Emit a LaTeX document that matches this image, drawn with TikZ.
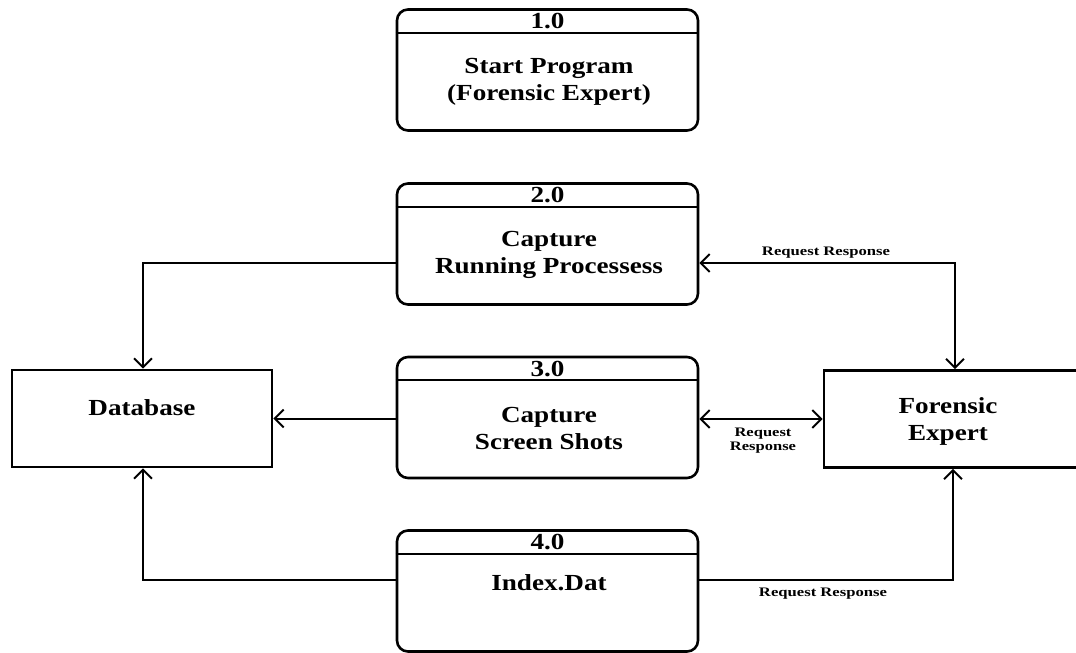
\documentclass[tikz,border=0pt]{standalone}
\usepackage{fontspec}
\setmainfont{Liberation Serif}
\usetikzlibrary{arrows.meta,calc}

% wide bold serif lettering used throughout the chart
\newcommand{\wtxt}[2][1.18]{\scalebox{#1}[1]{#2}}

\tikzset{
  procbox/.style={draw, line width=2.6pt, rounded corners=11pt,
                  minimum width=301pt, minimum height=121pt, inner sep=0pt},
  entbox/.style={draw, line width=2.6pt, inner sep=0pt},
  headline/.style={line width=2pt},
  flow/.style={line width=2pt, -{Straight Barb[length=9pt,width=18pt,line width=2pt]}},
  biflow/.style={line width=2pt, {Straight Barb[length=9pt,width=18pt,line width=2pt]}-{Straight Barb[length=9pt,width=18pt,line width=2pt]}},
  numtxt/.style={font=\bfseries\fontsize{23}{24}\selectfont, inner sep=0pt},
  bodytxt/.style={font=\bfseries\fontsize{23}{27}\selectfont, align=center, inner sep=0pt},
  lbltxt/.style={font=\bfseries\fontsize{13}{14}\selectfont, align=center, inner sep=0pt},
}

\begin{document}
\begin{tikzpicture}[x=1pt,y=-1pt]
\clip (0,0) rectangle (1076,653);
\useasboundingbox (0,0) rectangle (1076,653);

% processes
\node[procbox] (p1) at (547.5,70) {};
\node[procbox] (p2) at (547.5,244) {};
\node[procbox] (p3) at (547.5,417.5) {};
\node[procbox] (p4) at (547.5,591) {};

\foreach \p/\n in {p1/1.0,p2/2.0,p3/3.0,p4/4.0}{
  \draw[headline] ($(\p.north west)+(0,24.5)$) coordinate (\p hl) -- ($(\p.north east)+(0,24.5)$) coordinate (\p hr);
  \node[numtxt] (\p num) at ($(\p.north)+(0,13)$) {\wtxt{\n}};
}

\node[bodytxt] (p1t) at (549,81.5) {\wtxt{Start Program}\\\wtxt{(Forensic Expert)}};
\node[bodytxt] (p2t) at (549,254.5) {\wtxt{Capture}\\\wtxt{Running Processess}};
\node[bodytxt] (p3t) at (549,428.5) {\wtxt{Capture}\\\wtxt{Screen Shots}};
\node[bodytxt] (p4t) at (549,582.5) {\wtxt{Index.Dat}};

% external entities
\node[entbox, minimum width=260pt, minimum height=97pt] (db) at (142,418.5) {};
\node[bodytxt] (dbt) at (142,408) {\wtxt{Database}};
\node[entbox, minimum width=270pt, minimum height=97pt] (fe) at (959,419) {};
\node[bodytxt] (fet) at (948,421) {\wtxt{Forensic}\\\wtxt{Expert}};

% turning points of the flows
\coordinate (c2l) at (143,263);
\coordinate (c2r) at (955,263);
\coordinate (c4l) at (143,580);
\coordinate (c4r) at (953,580);

% data flows
\draw[flow] (p2.west |- c2l) -- (c2l) -- (c2l |- db.north);
\draw[biflow] (p2.east |- c2r) -- (c2r) -- (c2r |- fe.north);
\draw[flow] (p3.west |- 0,418.5) -- (db.east |- 0,418.5);
\draw[biflow] (p3.east |- 0,419) -- (fe.west |- 0,419);
\draw[flow] (p4.west |- c4l) -- (c4l) -- (c4l |- db.south);
\draw[flow] (p4.east |- c4r) -- (c4r) -- (c4r |- fe.south);

% flow labels
\node[lbltxt] (l2) at (826,252.5) {\wtxt[1.28]{Request Response}};
\node[lbltxt] (l3) at (763,441) {\wtxt[1.27]{Request}\\\wtxt[1.27]{Response}};
\node[lbltxt] (l4) at (823,594) {\wtxt[1.28]{Request Response}};
\end{tikzpicture}
\end{document}
